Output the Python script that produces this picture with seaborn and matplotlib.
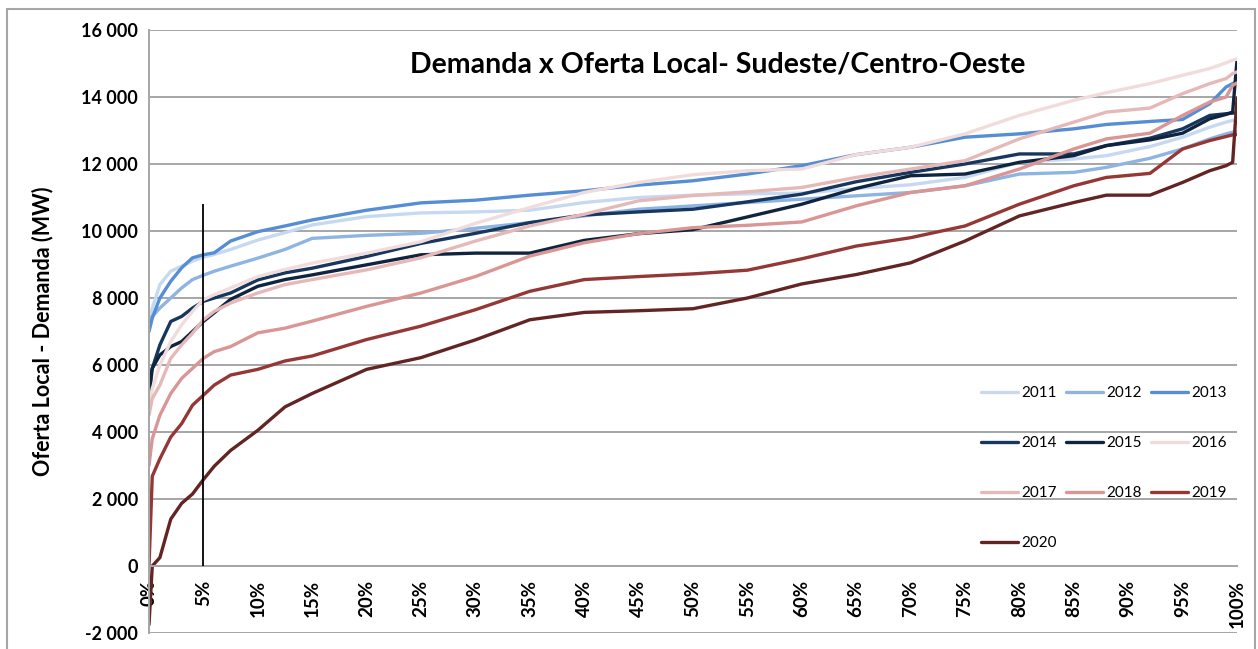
import numpy as np
import pandas as pd
import matplotlib
matplotlib.use("Agg")
import matplotlib.pyplot as plt
import seaborn as sns
from matplotlib.ticker import FuncFormatter, MultipleLocator
from matplotlib.patches import Rectangle

# ---------------- data ----------------
pct = [0, 0.3, 1, 2, 3, 4, 5, 6, 7.5, 10, 12.5, 15, 20, 25, 30, 35, 40, 45, 50,
       55, 60, 65, 70, 75, 80, 85, 88, 92, 95, 97.5, 99, 99.6, 100]

y2011 = [7300, 7700, 8400, 8800, 8950, 9100, 9220, 9300, 9450, 9730, 9950, 10180, 10430,
         10540, 10570, 10620, 10850, 11000, 11070, 11110, 11130, 11270, 11380, 11600,
         12050, 12150, 12250, 12520, 12800, 13100, 13250, 13300, 13320]
y2012 = [7300, 7450, 7700, 8000, 8300, 8550, 8680, 8800, 8950, 9190, 9450, 9780, 9870,
         9930, 10080, 10250, 10450, 10650, 10750, 10850, 10950, 11050, 11150, 11350,
         11700, 11750, 11900, 12170, 12450, 12750, 12900, 12950, 12970]
y2013 = [7000, 7400, 8000, 8500, 8900, 9200, 9290, 9350, 9700, 9980, 10150, 10330, 10620,
         10840, 10920, 11070, 11200, 11370, 11500, 11700, 11950, 12280, 12500, 12800,
         12900, 13050, 13180, 13270, 13330, 13800, 14300, 14400, 14450]
y2014 = [5500, 5900, 6600, 7300, 7450, 7700, 7900, 8000, 8150, 8540, 8750, 8890, 9240,
         9630, 9930, 10250, 10480, 10570, 10650, 10870, 11100, 11470, 11750, 12000,
         12300, 12300, 12550, 12770, 13050, 13450, 13500, 13520, 13520]
y2015 = [5000, 5900, 6300, 6550, 6700, 7000, 7300, 7560, 7960, 8350, 8550, 8690, 8990,
         9290, 9340, 9340, 9720, 9920, 10040, 10420, 10800, 11270, 11650, 11700,
         12050, 12250, 12550, 12720, 12920, 13350, 13480, 13550, 15100]
y2016 = [4800, 5300, 6000, 6700, 7200, 7600, 7950, 8100, 8300, 8640, 8850, 9040, 9340,
         9680, 10230, 10700, 11150, 11450, 11680, 11800, 11850, 12280, 12500, 12900,
         13450, 13900, 14130, 14400, 14650, 14850, 15020, 15100, 15130]
y2017 = [4500, 5000, 5400, 6200, 6600, 6950, 7350, 7600, 7850, 8150, 8400, 8550, 8840,
         9200, 9700, 10150, 10500, 10900, 11060, 11170, 11300, 11600, 11850, 12100,
         12750, 13250, 13550, 13670, 14100, 14400, 14550, 14700, 14750]
y2018 = [3000, 3800, 4500, 5150, 5600, 5900, 6200, 6400, 6550, 6960, 7100, 7310, 7750,
         8150, 8640, 9250, 9650, 9920, 10100, 10170, 10270, 10750, 11150, 11350,
         11850, 12450, 12750, 12920, 13450, 13850, 14000, 14350, 14420]
y2019 = [0, 2680, 3200, 3850, 4250, 4800, 5100, 5400, 5700, 5870, 6120, 6270, 6760,
         7160, 7650, 8200, 8550, 8640, 8720, 8830, 9170, 9550, 9800, 10150,
         10800, 11350, 11600, 11720, 12450, 12700, 12820, 12870, 12880]
y2020 = [-1750, 0, 250, 1400, 1870, 2150, 2580, 2980, 3450, 4050, 4750, 5150, 5870,
         6220, 6750, 7350, 7570, 7620, 7680, 8000, 8420, 8700, 9050, 9700,
         10450, 10850, 11070, 11070, 11450, 11800, 11950, 12050, 13970]

years = ["2011", "2012", "2013", "2014", "2015", "2016", "2017", "2018", "2019", "2020"]
series = [y2011, y2012, y2013, y2014, y2015, y2016, y2017, y2018, y2019, y2020]
colors = ["#C6D9F1", "#8DB4E2", "#558ED5", "#17375E", "#0F243E",
          "#F2DCDB", "#E6B9B8", "#D99694", "#953735", "#632523"]

title = "Demanda x Oferta Local- Sudeste/Centro-Oeste"
ylabel = "Oferta Local - Demanda (MW)"
xticks = list(range(0, 101, 5))
ref_pct = 5
ref_top = 10800

df = pd.concat([pd.DataFrame({"pct": pct, "val": s, "ano": y})
                for y, s in zip(years, series)], ignore_index=True)

# ---------------- figure ----------------
sns.set_theme(style="white")
plt.rcParams["font.family"] = ["Lato", "DejaVu Sans"]

fig = plt.figure(figsize=(12.58, 6.49), dpi=100)
ax = fig.add_axes([149/1258, 1-633/649, (1237-149)/1258, (633-30)/649])

# outer chart border
fig.patches.append(Rectangle((7/1258, -0.05), (1255-7)/1258, 1.05-9/649,
                             transform=fig.transFigure, fill=False,
                             edgecolor="#A6A6A6", lw=1.5, zorder=0))

ax.set_ylim(-2000, 16000)
ax.set_xlim(0, 100)
ax.yaxis.set_major_locator(MultipleLocator(2000))
ax.set_xticks(xticks)
ax.grid(axis="y", color="#A6A6A6", lw=1.4)
ax.grid(axis="x", visible=False)
ax.set_axisbelow(True)

sns.lineplot(data=df, x="pct", y="val", hue="ano", hue_order=years,
             palette=dict(zip(years, colors)), lw=2.4, sort=False,
             estimator=None, ax=ax, legend=True)

ax.vlines(ref_pct, 0, ref_top, color="black", lw=1.3, zorder=5)

# spines
for s in ["top", "right"]:
    ax.spines[s].set_visible(False)
ax.spines["left"].set_color("#A6A6A6")
ax.spines["left"].set_linewidth(1.4)
ax.spines["bottom"].set_position(("data", 0))
ax.spines["bottom"].set_color("#A6A6A6")
ax.spines["bottom"].set_linewidth(1.4)

ax.tick_params(axis="y", direction="out", length=5, width=1.2, color="#A6A6A6",
               labelsize=13, pad=3)
ax.tick_params(axis="x", direction="out", length=5, width=1.2, color="#A6A6A6",
               labelsize=13.5, pad=5, labelrotation=90)
ax.yaxis.set_major_formatter(FuncFormatter(lambda v, p: f"{int(v):,}".replace(",", " ")))
ax.set_xticklabels([f"{t}%" for t in xticks])
for lab in ax.get_xticklabels() + ax.get_yticklabels():
    lab.set_fontweight("bold")
    lab.set_color("black")

ax.set_xlabel("")
ax.set_ylabel(ylabel, fontsize=15.5, fontweight="bold", color="black")
ax.yaxis.set_label_coords(-0.088, 0.5)

ax.text(0.523, 0.942, title, transform=ax.transAxes, ha="center", va="center",
        fontsize=20.5, fontweight="bold", color="black")

# legend: row-major order like the reference (3 columns)
handles, labels = ax.get_legend_handles_labels()
hmap = dict(zip(labels, handles))
order = ["2011", "2014", "2017", "2020", "2012", "2015", "2018", "2013", "2016", "2019"]
leg = ax.legend([hmap[o] for o in order], order, ncol=3, loc="upper left",
                bbox_to_anchor=(0.752, 0.432), frameon=False, fontsize=11,
                labelspacing=2.36, handlelength=2.4, handletextpad=0.25,
                columnspacing=0.6)
for t in leg.get_texts():
    t.set_color("black")

fig.savefig("out.png", dpi=100)
